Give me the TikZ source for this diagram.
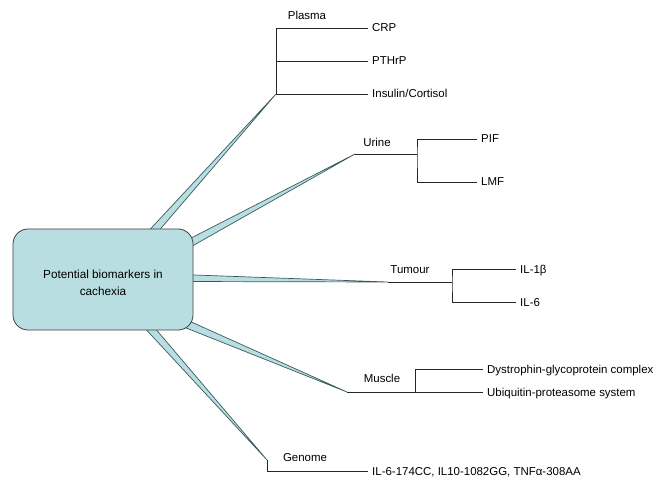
\documentclass[tikz,border=0pt]{standalone}
\usepackage{fontspec}
\setmainfont{Liberation Sans}
\usetikzlibrary{calc,positioning,backgrounds}

\definecolor{hubfill}{HTML}{B9DEE1}
\definecolor{limbline}{HTML}{3A5A5D}

\tikzset{
  hub/.style={draw=black!75, fill=hubfill, rounded corners=15bp, line width=0.8bp,
    minimum width=180bp, minimum height=101bp,
    font=\fontsize{11.8}{16.5}\selectfont},
  leaf/.style={anchor=west, inner sep=4bp, text height=8bp, text depth=0bp,
    font=\fontsize{11.5}{13}\selectfont},
  group/.style={inner sep=1bp, font=\fontsize{11.5}{13}\selectfont},
  limb/.style={draw=limbline, fill=hubfill, line width=0.7bp, line join=round},
  link/.style={draw=black!85, line width=0.8bp}
}

\newcommand{\limbto}[3]{\path[limb] ($(#1)!#3!90:(#2)$) -- (#2) -- ($(#1)!#3!-90:(#2)$) -- cycle;}

\begin{document}
\begin{tikzpicture}[x=1bp,y=-1bp]

    \useasboundingbox (0,0) rectangle (657,479);

    \node[hub] (hub) at (103,279.5) {\raisebox{-4bp}[\height][\depth]{\begin{tabular}{@{}c@{}}Potential biomarkers in\\cachexia\end{tabular}}};

    % tips of the branches
    \coordinate (plasma) at (276,94);
    \coordinate (urine) at (355,154);
    \coordinate (tumour) at (388,282);
    \coordinate (muscle) at (347,392);
    \coordinate (genome) at (267,460);

    \coordinate (plasmaroot) at ($(hub.north)+(43,11)$);
    \coordinate (urineroot) at ($(hub.east)+(-11,-32.5)$);
    \coordinate (tumourroot) at ($(hub.east)+(-13,-1.5)$);
    \coordinate (muscleroot) at ($(hub.east)+(-14,41.5)$);
    \coordinate (genomeroot) at ($(hub.south)+(41,-9)$);

    \begin{scope}[on background layer]
        \limbto{plasmaroot}{plasma}{4bp}
        \limbto{urineroot}{urine}{4bp}
        \limbto{tumourroot}{tumour}{3.5bp}
        \limbto{muscleroot}{muscle}{4bp}
        \limbto{genomeroot}{genome}{4bp}
    \end{scope}

    % Plasma
    \node[group] (plasmalabel) at (307,15) {Plasma};
    \node[leaf] (crp) at (368,28) {CRP};
    \node[leaf] (pthrp) at (368,61) {PTHrP};
    \node[leaf] (insulin) at (368,94) {Insulin/Cortisol};
    \draw[link] (crp.west) -| (plasma);
    \draw[link] (pthrp.west) -- (pthrp.west -| plasma);
    \draw[link] (plasma) -- (insulin.west);

    % Urine
    \node[group] (urinelabel) at (377,142) {Urine};
    \coordinate (urinefork) at (417,154);
    \node[leaf] (pif) at (477,139) {PIF};
    \node[leaf] (lmf) at (477,182) {LMF};
    \draw[link] (urine) -- (urinefork);
    \draw[link] (pif.west) -| (urinefork) |- (lmf.west);

    % Tumour
    \node[group] (tumourlabel) at (410,270) {Tumour};
    \coordinate (tumourfork) at (452,282);
    \node[leaf] (ilbeta) at (516,269) {IL-1β};
    \node[leaf] (ilsix) at (516,302) {IL-6};
    \draw[link] (tumour) -- (tumourfork);
    \draw[link] (ilbeta.west) -| (tumourfork) |- (ilsix.west);

    % Muscle
    \node[group] (musclelabel) at (382,378) {Muscle};
    \coordinate (musclefork) at (415,392);
    \node[leaf] (dystrophin) at (483,369) {Dystrophin-glycoprotein complex};
    \node[leaf] (ubiquitin) at (483,392) {Ubiquitin-proteasome system};
    \draw[link] (muscle) -- (ubiquitin.west);
    \draw[link] (musclefork) |- (dystrophin.west);

    % Genome
    \node[group] (genomelabel) at (305,458) {Genome};
    \node[leaf] (snp) at (368,471) {IL-6-174CC, IL10-1082GG, TNFα-308AA};
    \draw[link] (genome) |- (snp.west);

\end{tikzpicture}
\end{document}
